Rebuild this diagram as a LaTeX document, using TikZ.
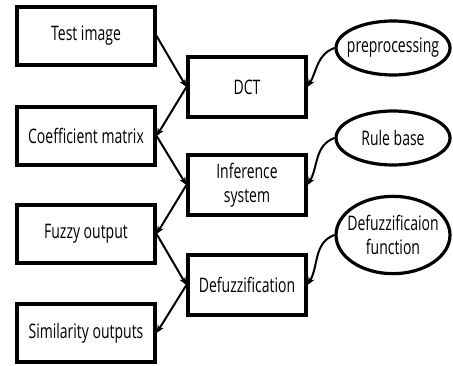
\documentclass[tikz,border=0pt]{standalone}
\usepackage{fontspec}
\setmainfont{Open Sans}[FakeStretch=0.7]
\usetikzlibrary{
  arrows.meta,
  shapes.geometric,
  positioning
}

\begin{document}
\begin{tikzpicture}[x=0.75pt, y=-0.75pt,
  font=\fontsize{15pt}{18pt}\selectfont,
  databox/.style={draw, line width=2.4pt, minimum height=43.5pt, align=center, inner sep=0pt},
  leftbox/.style={databox, minimum width=103.5pt},
  procbox/.style={databox, minimum width=88.5pt, minimum height=45pt},
  auxnode/.style={draw, ellipse, line width=2.4pt, minimum width=85.5pt, inner xsep=-8pt, inner ysep=0pt, align=center},
  flow/.style={line width=1.5pt, -{Stealth[length=6pt, width=5pt]}}]
  \useasboundingbox (0,0) rectangle (453,366);

  \node[leftbox] (test)  at (86,36)  {Test image};
  \node[leftbox] (coef)  at (86,136) {Coefficient matrix};
  \node[leftbox] (fuzzy) at (86,234) {Fuzzy output};
  \node[leftbox] (simil) at (86,333) {Similarity outputs};

  \node[procbox] (dct)    at (247,87)  {DCT};
  \node[procbox] (infer)  at (247,185) {Inference\\system};
  \node[procbox] (defuzz) at (247,285) {Defuzzification};

  \node[auxnode, minimum height=40.5pt] (prep)   at (393,48)  {preprocessing};
  \node[auxnode, minimum height=40.5pt] (rules)  at (393,138) {Rule base};
  \node[auxnode, minimum height=58pt]   (defunc) at (393,235) {Defuzzificaion\\function};

  \draw[flow] (test.east) -- (dct.west);
  \draw[flow] (dct.west) -- (coef.east);
  \draw[flow] (coef.east) -- (infer.west);
  \draw[flow] (infer.west) -- (fuzzy.east);
  \draw[flow] (fuzzy.east) -- (defuzz.west);
  \draw[flow] (defuzz.west) -- (simil.east);

  \draw[flow] (prep.west) to[out=200, in=60] (dct.east);
  \draw[flow] (rules.west) to[out=200, in=60] (infer.east);
  \draw[flow] (defunc.west) to[out=200, in=60] (defuzz.east);
\end{tikzpicture}
\end{document}
